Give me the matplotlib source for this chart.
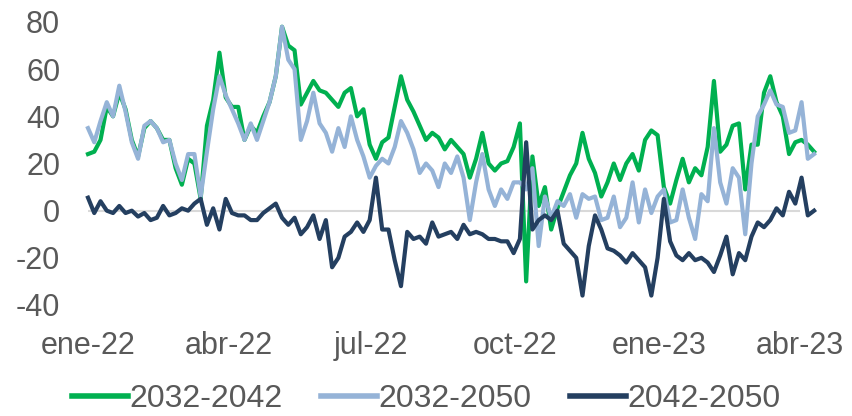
import matplotlib
matplotlib.use("Agg")
import matplotlib.pyplot as plt
import pandas as pd

# serie cada 4 dias, ene-22 a abr-23
fechas = pd.date_range("2022-01-01", periods=117, freq="4D")

s_2032_2042 = [24, 25, 30, 44, 40, 50, 43, 30, 23, 35, 38, 35, 30, 30, 18, 11, 22, 20, 5, 36,
               47, 67, 48, 44, 44, 30, 36, 33, 40, 46, 57, 78, 70, 68, 45, 50, 55, 51, 50, 47,
               44, 50, 52, 40, 43, 28, 22, 29, 31, 44, 57, 47, 42, 36, 30, 33, 31, 26, 30, 27,
               24, 14, 22, 33, 20, 17, 20, 21, 27, 37, -30, 23, 2, 10, -8, 1, 8, 15, 20, 33,
               22, 16, 6, 12, 20, 13, 20, 24, 17, 30, 34, 32, 10, 3, 13, 22, 12, 18, 15, 27,
               55, 25, 28, 36, 37, 9, 28, 28, 50, 57, 46, 40, 24, 29, 30, 28, 25]

s_2032_2050 = [35, 29, 38, 46, 40, 53, 42, 29, 22, 36, 38, 35, 29, 30, 20, 13, 24, 24, 6, 25,
               43, 57, 49, 43, 37, 30, 37, 30, 38, 46, 57, 78, 64, 60, 30, 38, 50, 37, 33, 25,
               35, 27, 40, 30, 23, 14, 19, 22, 20, 27, 38, 33, 26, 16, 20, 17, 10, 20, 16, 23,
               14, -4, 12, 24, 9, 2, 9, 5, 12, 12, 9, 18, -15, 6, -3, 4, 2, 7, -3, 7,
               5, 6, -4, -3, 6, -7, -3, 12, -5, 9, -1, 6, 9, -5, -4, 9, -3, -12, 7, 4,
               35, 12, 3, 18, 14, -10, 20, 40, 45, 51, 45, 44, 33, 34, 46, 22, 24]

s_2042_2050 = [5.5, -1, 4, 0, -1, 2, -1, 0, -2.5, -1, -4, -3, 2, -2, -1, 1, 0, 3, 5, -6,
               1, -8, 5, -1, -2, -2, -4, -4, -1, 1, 3, -3, -6, -3, -10, -7, -2, -12, -4, -24,
               -20, -11, -9, -5, -9, -4, 14, -8, -8, -21, -32, -9, -12, -11, -14, -5, -11, -10, -9, -12,
               -6, -10, -9, -10, -12, -12, -13, -13, -18, -12, 29, -8, -4, -2, -4, 0, -14, -17, -20, -36,
               -15, -2, -8, -16, -17, -19, -22, -18, -21, -24, -36, -20, 5, -13, -19, -21, -18, -21, -20, -22,
               -26, -19, -11, -27, -18, -21, -11, -5, -7, -4, 1, -2, 8, 3, 14, -2, 0]

series = ["2032-2042", "2032-2050", "2042-2050"]
colores = ["#00B050", "#95B3D7", "#243F60"]

tick_fechas = pd.to_datetime(["2022-01-01", "2022-04-01", "2022-07-01",
                              "2022-10-01", "2023-01-01", "2023-04-01"])
tick_labels = ["ene-22", "abr-22", "jul-22", "oct-22", "ene-23", "abr-23"]

plt.rcParams["font.family"] = ["Liberation Sans", "DejaVu Sans"]
plt.rcParams["axes.unicode_minus"] = False
gris = "#595959"

fig = plt.figure(figsize=(8.53, 4.16), dpi=100)
ax = fig.add_axes([88 / 853, 1 - 305 / 416, 712 / 853, 283 / 416])

ax.axhline(0, color="#D9D9D9", lw=1.5, zorder=0)
for datos, nombre, c in zip([s_2032_2042, s_2032_2050, s_2042_2050], series, colores):
    ax.plot(fechas, datos, color=c, lw=3.0, label=nombre, clip_on=False,
            solid_joinstyle="round")

ax.set_xlim(tick_fechas[0], tick_fechas[-1])
ax.set_ylim(-40, 80)
ax.set_yticks(range(-40, 81, 20))
ax.set_xticks(tick_fechas)
ax.set_xticklabels(tick_labels)
ax.tick_params(axis="both", length=0, labelsize=22, colors=gris)
ax.tick_params(axis="y", pad=20)
ax.tick_params(axis="x", pad=19)
for s in ax.spines.values():
    s.set_visible(False)

leg = fig.legend(loc="lower center", ncol=3, frameon=False, fontsize=23,
                 handlelength=1.75, handletextpad=0.05, columnspacing=1.2,
                 labelcolor=gris, bbox_to_anchor=(0.5, -0.065))
for h in leg.get_lines():
    h.set_linewidth(4)

fig.savefig("out.png", dpi=100)
